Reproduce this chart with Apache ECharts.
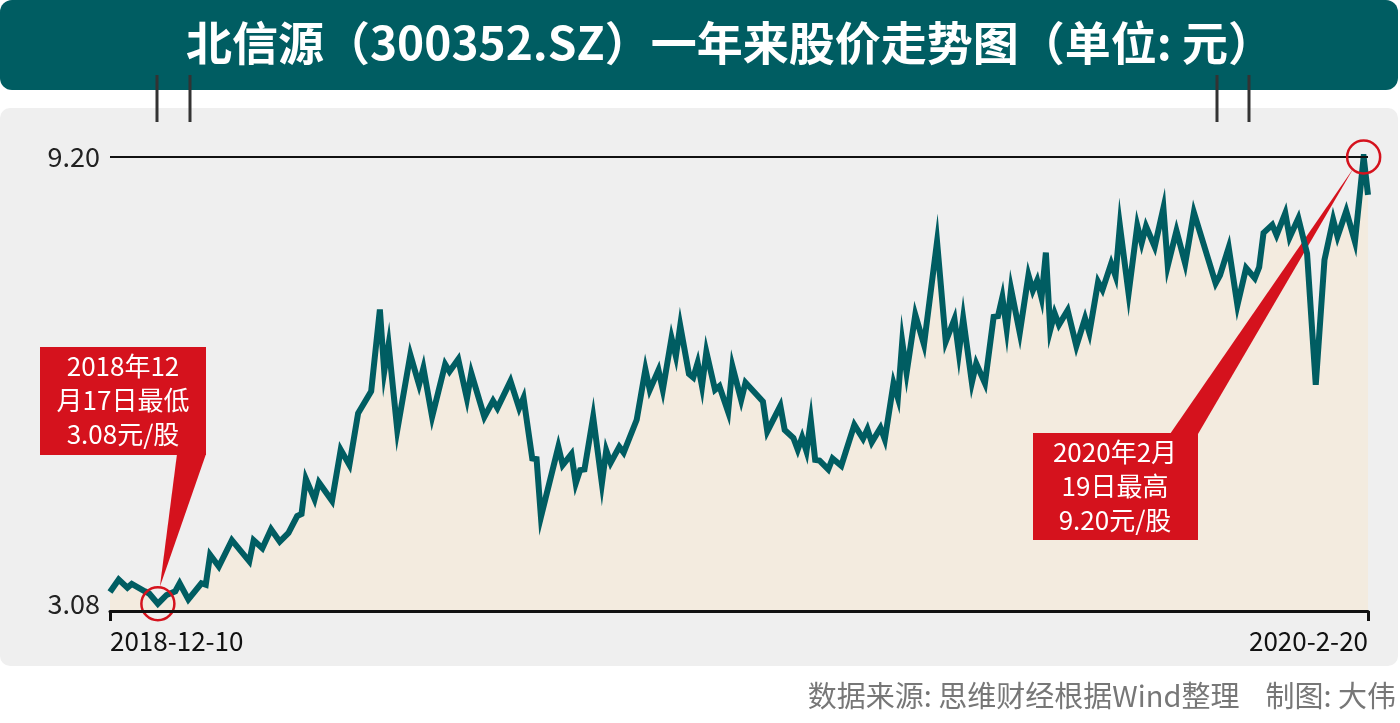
<!DOCTYPE html>
<html><head><meta charset="utf-8">
<script src="https://cdn.jsdelivr.net/npm/echarts@6/dist/echarts.min.js"></script>
<style>html,body{margin:0;padding:0;background:#fff;}#c{width:1400px;height:723px;}</style>
</head><body><div id="c"></div>
<script>
// ---------- data ----------
const titleText = '北信源（300352.SZ）一年来股价走势图（单位: 元）';
const sourceText = '数据来源: 思维财经根据Wind整理    制图: 大伟';
const xTickLabels = ['2018-12-10', '2020-2-20'];
const xRange = [0, 289];           // trading-day index of first / last label
const yRange = [2.98, 9.20];
const yTickValues = [3.08, 9.20];
const dayIndex = [0,2,4,5,8,9,11,13,15,16,18,21,22,23,25,28,32,33,35,37,39,41,43,44,45,47,48,51,53,55,57,60,62,63,64,66,69,71,72,74,77,78,80,82,83,86,88,89,92,94,95,97,98,99,103,104,106,107,108,109,111,113,114,115,117,118,121,123,124,126,127,129,130,131,133,134,135,136,137,139,140,142,143,145,146,150,151,154,155,157,158,159,160,161,162,163,165,166,168,171,173,174,175,177,178,180,181,182,183,185,187,190,192,194,195,196,198,199,201,203,204,205,206,207,209,211,212,213,214,215,216,217,218,220,222,224,225,227,228,230,231,232,234,236,237,238,240,242,243,245,247,249,254,255,257,259,261,263,264,265,267,268,270,271,273,275,277,279,281,282,284,286,288,289];
const prices = [3.24,3.41,3.30,3.35,3.25,3.22,3.08,3.20,3.25,3.36,3.14,3.36,3.34,3.75,3.59,3.95,3.66,3.95,3.84,4.10,3.93,4.05,4.28,4.31,4.79,4.51,4.74,4.49,5.19,4.98,5.69,5.99,7.11,6.26,6.63,5.46,6.49,6.08,6.31,5.64,6.36,6.26,6.43,5.89,6.24,5.64,5.86,5.76,6.13,5.76,5.90,5.07,5.06,4.27,5.23,4.98,5.13,4.73,4.91,4.92,5.64,4.73,5.18,5.01,5.23,5.15,5.60,6.29,6.01,6.28,6.01,6.72,6.47,6.89,6.23,6.18,6.38,6.06,6.53,6.01,6.06,5.71,6.33,5.87,6.11,5.85,5.44,5.79,5.46,5.35,5.19,5.36,5.17,5.59,5.05,5.04,4.92,5.07,4.97,5.53,5.34,5.47,5.29,5.49,5.33,6.10,5.90,6.67,6.24,7.04,6.63,8.04,6.67,6.98,6.52,6.99,6.11,6.37,6.10,7.01,7.02,7.28,6.84,7.39,6.79,7.58,7.37,7.51,7.27,7.89,6.83,7.06,6.90,7.10,6.61,6.99,6.79,7.49,7.38,7.74,7.57,8.26,7.33,8.26,8.02,8.25,7.97,8.50,7.71,8.19,7.74,8.44,7.47,7.58,7.96,7.17,7.68,7.54,7.69,8.16,8.27,8.13,8.43,8.10,8.36,7.88,6.08,7.79,8.34,8.11,8.46,8.04,9.20,8.68];
const lowPoint = [11, 3.08];
const highPoint = [288, 9.20];
const lowNote = ['2018年12', '月17日最低', '3.08元/股'];
const highNote = ['2020年2月', '19日最高', '9.20元/股'];

// ---------- chart ----------
const FONT = '"Noto Sans CJK SC", "Noto Sans", sans-serif';
const TEAL = '#005d62';
const RED = '#d5121d';
const seriesData = dayIndex.map((d, i) => [d, prices[i]]);

const chart = echarts.init(document.getElementById('c'), null, {renderer: 'canvas'});
chart.setOption({
  animation: false,
  backgroundColor: '#ffffff',
  textStyle: {fontFamily: FONT},
  grid: {left: 110, right: 32, top: 157, bottom: 112},
  xAxis: {
    type: 'value', min: xRange[0], max: xRange[1], interval: xRange[1] - xRange[0],
    z: 6,
    axisLine: {show: true, lineStyle: {color: '#111', width: 3}},
    axisTick: {show: true, length: 10, lineStyle: {color: '#111', width: 3}},
    splitLine: {show: false},
    axisLabel: {
      fontSize: 26, color: '#111', margin: 17, fontFamily: FONT,
      alignMinLabel: 'left', alignMaxLabel: 'right',
      formatter: v => (v === xRange[0] ? xTickLabels[0] : (v === xRange[1] ? xTickLabels[1] : ''))
    }
  },
  yAxis: {
    type: 'value', min: yRange[0], max: yRange[1],
    axisLine: {show: false}, axisTick: {show: false}, splitLine: {show: false},
    axisLabel: {
      customValues: yTickValues,
      fontSize: 27, color: '#222', margin: 10, fontFamily: FONT,
      formatter: v => Number(v).toFixed(2)
    }
  },
  series: [
    {
      type: 'line', data: seriesData, z: 1, symbol: 'none', silent: true,
      lineStyle: {width: 0, opacity: 0},
      areaStyle: {color: '#f3ebdf', opacity: 1, origin: 'start'}
    },
    {
      type: 'line', data: seriesData, z: 3, symbol: 'none', silent: true,
      lineStyle: {color: TEAL, width: 6, join: 'miter'},
      markLine: {
        silent: true, symbol: 'none', label: {show: false},
        lineStyle: {color: '#111', width: 2, type: 'solid'},
        data: [{yAxis: yRange[1]}]
      },
      markPoint: {
        silent: true, symbol: 'circle', symbolSize: 33, label: {show: false},
        itemStyle: {color: 'rgba(0,0,0,0)', borderColor: RED, borderWidth: 2.5},
        data: [{coord: lowPoint}, {coord: highPoint}]
      }
    }
  ]
});

const lp = chart.convertToPixel({gridIndex: 0}, lowPoint);
const hp = chart.convertToPixel({gridIndex: 0}, highPoint);

function noteTexts(lines, cx, y0, lh) {
  return lines.map((t, i) => ({
    type: 'text', z: 10, x: cx, y: y0 + i * lh,
    style: {text: t, fill: '#fff', font: '26px ' + FONT, textAlign: 'center', textVerticalAlign: 'middle'}
  }));
}

chart.setOption({
  graphic: [
    {type: 'rect', z: -10, shape: {x: 0, y: 0, width: 1398, height: 90, r: 12}, style: {fill: '#005d62'}},
    {type: 'rect', z: -10, shape: {x: 0, y: 108, width: 1398, height: 558, r: 10}, style: {fill: '#efefef'}},
    {type: 'text', z: 10, x: 730, y: 43,
      style: {text: titleText, fill: '#fff', font: 'bold 46px ' + FONT, textAlign: 'center', textVerticalAlign: 'middle'}},
    {type: 'line', z: 10, shape: {x1: 157, y1: 75, x2: 157, y2: 122}, style: {stroke: '#333', lineWidth: 3}},
    {type: 'line', z: 10, shape: {x1: 190, y1: 75, x2: 190, y2: 122}, style: {stroke: '#333', lineWidth: 3}},
    {type: 'line', z: 10, shape: {x1: 1217, y1: 75, x2: 1217, y2: 122}, style: {stroke: '#333', lineWidth: 3}},
    {type: 'line', z: 10, shape: {x1: 1249, y1: 75, x2: 1249, y2: 122}, style: {stroke: '#333', lineWidth: 3}},
    // low callout
    {type: 'polygon', z: 2, shape: {points: [[177, 454], [206, 454], [lp[0] + 2, lp[1] - 17]]}, style: {fill: RED}},
    {type: 'rect', z: 2, shape: {x: 40, y: 347, width: 166, height: 108}, style: {fill: RED}},
    ...noteTexts(lowNote, 123, 366, 34),
    // high callout
    {type: 'polygon', z: 2, shape: {points: [[1170, 434], [1198, 434], [hp[0] - 10, hp[1] + 11]]}, style: {fill: RED}},
    {type: 'rect', z: 2, shape: {x: 1033, y: 433, width: 165, height: 107}, style: {fill: RED}},
    ...noteTexts(highNote, 1115, 452, 34),
    {type: 'text', z: 10, x: 1396, y: 696,
      style: {text: sourceText, fill: '#777', font: '29px ' + FONT, textAlign: 'right', textVerticalAlign: 'middle'}}
  ]
});
</script>
</body></html>
